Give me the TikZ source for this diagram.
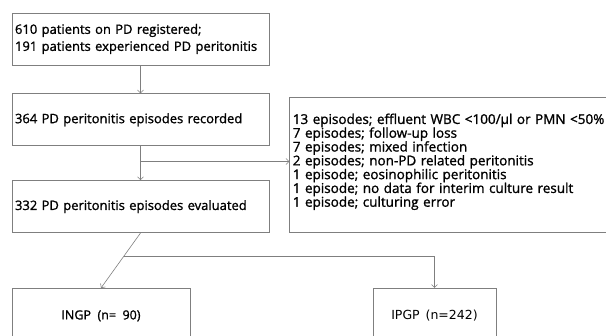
\documentclass[tikz,border=0pt]{standalone}
\usepackage{fontspec}
\setmainfont{Open Sans}[WordSpace=2, FakeBold=1.2]
\newfontfamily\tahomaish{DejaVu Sans}[WordSpace=1.5]
\usetikzlibrary{positioning, arrows.meta, calc}
\definecolor{edge}{HTML}{7F7F7F}
\tikzset{
  flowbox/.style={draw=edge, line width=0.8pt, align=left, text width=251pt,
                  inner xsep=3pt, minimum height=52pt,
                  font=\fontsize{13}{17}\selectfont},
  sidebox/.style={draw=edge, line width=0.8pt, align=left, text width=330pt,
                  inner xsep=3pt, minimum height=135pt,
                  font=\fontsize{13.5}{13.8}\selectfont},
  groupbox/.style={draw=edge, line width=0.8pt, align=center, inner ysep=4pt,
                   text height=27pt, text depth=40pt,
                   font=\fontsize{12.5}{15}\selectfont},
  flow/.style={-{Straight Barb[length=3pt, width=6pt]}, line width=0.6pt, draw=edge},
}

\begin{document}
\begin{tikzpicture}[x=1pt, y=-1pt, node distance=28pt and 20pt]
  \clip (0,0) rectangle (606,336);
  \node[flowbox] (reg) at (140.5,39) {610 patients on PD registered;\\191 patients experienced PD peritonitis};
  \node[flowbox, below=of reg] (rec) {364 PD peritonitis episodes recorded};
  \node[flowbox, below=34pt of rec] (eval) {332 PD peritonitis episodes evaluated};
  % excluded episodes on the right
  \node[sidebox, below right=4pt and 20pt of rec.north east] (excl)
        {13 episodes; effluent WBC <100/μl or PMN <50\%\\7 episodes; follow-up loss\\7 episodes; mixed infection\\2 episodes; non-PD related peritonitis\\1 episode; eosinophilic peritonitis\\1 episode; no data for interim culture result\\1 episode; culturing error\par\kern7pt};
  % the two groups, cut off by the page edge
  \node[groupbox, minimum width=178pt, anchor=north] (ingp) at (101,288) {INGP (n= 90)};
  \node[groupbox, minimum width=123pt, anchor=north, font=\tahomaish\fontsize{12.5}{14}\selectfont] (ipgp) at (434.5,288) {IPGP (n=242)};
  \coordinate (cut) at ($(rec.south)!0.45!(eval.north)$);
  \coordinate (split) at ($(eval.south)!0.42!(ingp.north)$);
  \draw[flow] (reg)--(rec);
  \draw[flow] (rec)--(eval);
  \draw[flow] (cut)--(cut-|excl.west);
  \draw[flow] (eval.south)--(ingp.north);
  \draw[flow] (split)-|(ipgp.north);
\end{tikzpicture}
\end{document}
